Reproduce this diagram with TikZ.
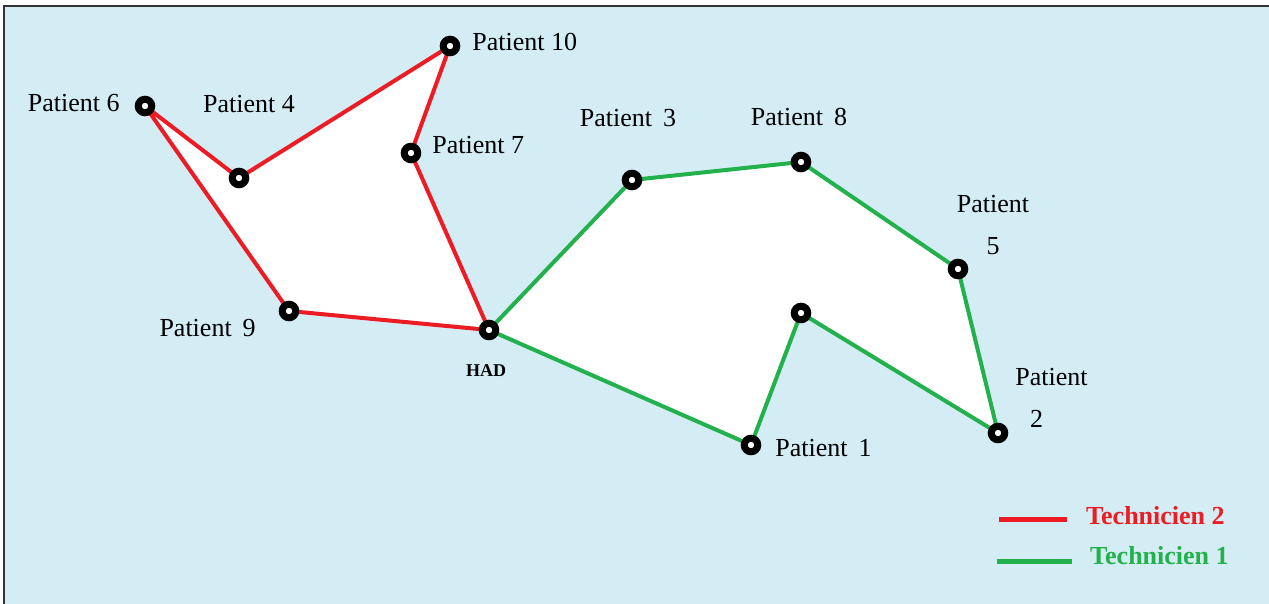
\documentclass[tikz,border=0pt]{standalone}
\usepackage{fontspec}
\setmainfont{Liberation Serif}
\usetikzlibrary{positioning,backgrounds}
\definecolor{sea}{RGB}{212,237,244}
\definecolor{tecred}{RGB}{237,28,36}
\definecolor{tecgreen}{RGB}{34,177,76}

\begin{document}
\begin{tikzpicture}[x=1pt,y=-1pt,
    stop/.style={circle,draw=black,fill=white,line width=7pt,minimum size=13.5pt,inner sep=0pt},
    lbl/.style={inner sep=0pt,font=\fontsize{26}{42}\selectfont,align=center},
    legtxt/.style={inner sep=0pt,font=\fontsize{26}{30}\selectfont\bfseries},
    tech2/.style={draw=tecred,line width=4pt,line join=round},
    tech1/.style={draw=tecgreen,line width=4pt,line join=round}]
    \useasboundingbox (0,0) rectangle (1269,604);
    \clip (0,0) rectangle (1269,604);

    \node[stop] (had)  at (489,330) {};
    \node[stop] (p_9)  at (289,311) {};
    \node[stop] (p_6)  at (145,106) {};
    \node[stop] (p_4)  at (239,178) {};
    \node[stop] (p_10) at (450,46)  {};
    \node[stop] (p_7)  at (411,153) {};
    \node[stop] (p_3)  at (632,180) {};
    \node[stop] (p_8)  at (801,162) {};
    \node[stop] (p_5)  at (958,269) {};
    \node[stop] (p_2)  at (998,433) {};
    \node[stop] (p_x)  at (801,313) {};
    \node[stop] (p_1)  at (751,445) {};

    \node[lbl] (l_10) [right=12pt of p_10, yshift=4pt] {Patient 10};
    \node[lbl] (l_6)  [left=15pt of p_6, yshift=3pt] {Patient 6};
    \node[lbl] (l_4)  [above=55pt of p_4, xshift=10pt] {Patient 4};
    \node[lbl] (l_7)  [right=11pt of p_7, yshift=8pt] {Patient 7};
    \node[lbl] (l_3)  [above=43pt of p_3, xshift=-4pt] {Patient\ \,3};
    \node[lbl] (l_8)  [above=26pt of p_8, xshift=-2pt] {Patient\ \,8};
    \node[lbl] (l_5)  [above=4pt of p_5, xshift=35pt] {Patient\\\makebox[0pt][l]{\hspace{5pt}}5};
    \node[lbl] (l_2)  [right=7pt of p_2, yshift=35pt] {Patient\\\makebox[43pt][l]{2}};
    \node[lbl] (l_9)  [left=23pt of p_9, yshift=-17pt] {Patient\ \,9};
    \node[lbl] (l_1)  [right=14pt of p_1, yshift=-3pt] {Patient\ \,1};
    \node[lbl, font=\fontsize{18}{20}\selectfont\bfseries] (l_had) [below=24pt of had, xshift=-3pt] {HAD};

    \coordinate (leg2a) at (999,519);
    \coordinate (leg2b) at (1067,519);
    \coordinate (leg1a) at (997,561);
    \coordinate (leg1b) at (1072,561);
    \draw[tech2, line width=5pt] (leg2a) -- (leg2b);
    \draw[tech1, line width=5pt] (leg1a) -- (leg1b);
    \node[legtxt, text=tecred]   (leg2) [right=19pt of leg2b, yshift=3pt] {Technicien 2};
    \node[legtxt, text=tecgreen] (leg1) [right=18pt of leg1b, yshift=5pt] {Technicien 1};

    \begin{scope}[on background layer]
        \fill[sea] (4,6) rectangle (1290,620);
        \draw[black!80, line width=2.5pt] (4,620) -- (4,6) -- (1290,6);
        \fill[white] (had.center) -- (p_9.center) -- (p_6.center) -- (p_4.center)
            -- (p_10.center) -- (p_7.center) -- cycle;
        \fill[white] (had.center) -- (p_3.center) -- (p_8.center) -- (p_5.center)
            -- (p_2.center) -- (p_x.center) -- (p_1.center) -- cycle;
        \draw[tech2] (had.center) -- (p_9.center) -- (p_6.center) -- (p_4.center)
            -- (p_10.center) -- (p_7.center) -- cycle;
        \draw[tech1] (had.center) -- (p_3.center) -- (p_8.center) -- (p_5.center)
            -- (p_2.center) -- (p_x.center) -- (p_1.center) -- cycle;
    \end{scope}
\end{tikzpicture}
\end{document}
